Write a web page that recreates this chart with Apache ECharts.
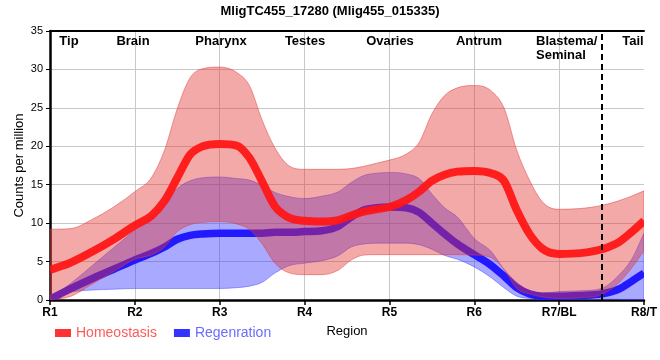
<!DOCTYPE html>
<html><head><meta charset="utf-8">
<script src="https://cdn.jsdelivr.net/npm/echarts@6/dist/echarts.min.js"></script>
<style>html,body{margin:0;padding:0;background:#fff}#c{width:660px;height:360px}</style>
</head><body><div id="c"></div>
<script>
// ---- data ----
var categories = ['R1','R2','R3','R4','R5','R6','R7/BL','R8/T'];
var regions = ['Tip','Brain','Pharynx','Testes','Ovaries','Antrum','Blastema/\nSeminal','Tail'];
var yTicks = [0,5,10,15,20,25,30,35];
var xs = [1,1.25,1.5,1.75,2,2.2,2.35,2.5,2.65,2.8,3,3.2,3.35,3.5,3.65,3.8,4,4.2,4.4,4.55,4.7,4.85,5,5.2,5.35,5.5,5.65,5.8,6,6.2,6.35,6.5,6.65,6.8,7,7.25,7.5,7.7,7.85,8];
var homMean  = [3.9,4.9,6.3,7.9,9.7,11.0,12.9,15.9,18.9,20.0,20.3,20.1,18.5,15.4,12.2,10.8,10.3,10.2,10.4,11.0,11.5,11.8,12.1,13.0,14.1,15.5,16.3,16.7,16.8,16.5,15.5,11.7,8.6,6.7,6.0,6.1,6.6,7.5,8.8,10.3];
var homUpper = [9.2,9.3,10.5,12.1,14.1,16.0,19.5,24.9,28.9,30.1,30.3,29.6,27.9,23.4,19.8,17.6,17.0,17.0,17.0,17.1,17.4,17.8,18.2,19.0,20.5,24.2,26.6,27.6,27.9,27.2,25.0,19.5,15.6,12.8,11.8,11.9,12.3,12.9,13.5,14.2];
var homLower = [0,0.5,2.1,3.7,5.3,5.9,6.9,8.9,9.8,10.1,10.2,9.9,9.2,7.3,4.8,3.6,3.3,3.3,3.9,5.2,5.85,5.9,5.9,5.9,5.9,5.9,5.9,5.9,5.85,5.5,4.0,1.5,0.8,0.4,0.2,0.3,0.7,2.2,4.1,6.4];
var regMean  = [0.1,1.5,2.8,4.0,5.2,6.1,6.9,7.9,8.4,8.6,8.7,8.7,8.7,8.7,8.8,8.8,8.9,9.0,9.6,10.8,11.7,12.0,12.1,12.0,11.4,10.0,8.6,7.3,5.9,4.5,3.1,1.6,0.8,0.5,0.5,0.6,0.8,1.4,2.4,3.5];
var regUpper = [0.1,2.2,4.5,6.8,9.1,11.0,12.6,14.5,15.5,15.9,16.0,15.8,15.6,14.9,14.0,13.5,13.2,13.5,14.1,15.3,16.2,16.5,16.6,16.4,15.8,13.8,12.0,10.8,8.0,6.3,4.0,2.3,1.2,0.9,1.1,1.2,1.5,3.2,5.2,8.7];
var regLower = [0,1.0,1.3,1.4,1.5,1.5,1.5,1.5,1.5,1.5,1.5,1.6,1.8,2.3,3.5,4.4,4.8,5.1,5.8,6.9,7.3,7.4,7.4,7.4,7.2,6.6,5.8,5.3,4.3,2.9,1.6,0.5,0.2,0.1,0.1,0.1,0.1,0.1,0,0];

var FONT = "'Liberation Sans', Arial, sans-serif";

// smooth (limited) cubic path through pixel points
function smoothPath(p){
  var n=p.length, dx=[], m=[], t=[], i, s='';
  for(i=0;i<n-1;i++){ dx[i]=p[i+1][0]-p[i][0]; m[i]=(p[i+1][1]-p[i][1])/dx[i]; }
  t[0]=m[0]; t[n-1]=m[n-2];
  for(i=1;i<n-1;i++){
    if(m[i-1]*m[i]<=0){ t[i]=0; }
    else {
      var v=(m[i-1]*dx[i]+m[i]*dx[i-1])/(dx[i-1]+dx[i]);
      var lim=3*Math.min(Math.abs(m[i-1]),Math.abs(m[i]));
      if(Math.abs(v)>lim) v=(v>0?1:-1)*lim;
      t[i]=v;
    }
  }
  for(i=0;i<n-1;i++){
    var h=dx[i]/3;
    s+=' C'+(p[i][0]+h)+','+(p[i][1]+t[i]*h)+' '+(p[i+1][0]-h)+','+(p[i+1][1]-t[i+1]*h)+' '+p[i+1][0]+','+p[i+1][1];
  }
  return s;
}

function band(name, upper, lower, fill, stroke, z){
  return {
    type:'custom', name:name, z:z, silent:true, clip:true,
    coordinateSystem:'cartesian2d',
    data:[[xs[0],0]], encode:{x:0,y:1},
    renderItem:function(params, api){
      var up = xs.map(function(x,i){ return api.coord([x, upper[i]]); });
      var lo = xs.map(function(x,i){ return api.coord([x, lower[i]]); }).reverse();
      var d = 'M'+up[0][0]+','+up[0][1]+smoothPath(up)+' L'+lo[0][0]+','+lo[0][1]+smoothPath(lo)+' Z';
      return {type:'path', shape:{pathData:d}, style:{fill:fill, stroke:stroke, lineWidth:1}};
    }
  };
}

function meanLine(name, vals, color, legendColor, width, z){
  return {
    type:'custom', name:name, z:z, silent:true, clip:true,
    coordinateSystem:'cartesian2d',
    itemStyle:{color:legendColor},
    data:[[xs[0],0]], encode:{x:0,y:1},
    renderItem:function(params, api){
      var p = xs.map(function(x,i){ return api.coord([x, vals[i]]); });
      var d = 'M'+p[0][0]+','+p[0][1]+smoothPath(p);
      return {type:'path', shape:{pathData:d}, style:{fill:null, stroke:color, lineWidth:width, lineJoin:'round', lineCap:'butt'}};
    }
  };
}

var chart = echarts.init(document.getElementById('c'), null, {renderer:'canvas'});

var regionPos = [[69,41,'center'],[133,41,'center'],[221,41,'center'],[305,41,'center'],[390,41,'center'],[479,41,'center'],[536,34,'left'],[633,41,'center']];
var graphics = regions.map(function(r,i){
  return {type:'text', x:regionPos[i][0], y:regionPos[i][1], z:100,
    style:{text:r, font:'bold 13px '+FONT, fill:'#000', textAlign:regionPos[i][2], textVerticalAlign:(i===6?'top':'middle'), lineHeight:14}};
});

chart.setOption({
  animation:false,
  backgroundColor:'#fff',
  title:{text:'MligTC455_17280 (Mlig455_015335)', left:'center', top:0,
    textStyle:{fontFamily:FONT, fontWeight:'bold', fontSize:13, color:'#000'}},
  grid:{left:50, right:10, top:31, bottom:60, containLabel:false},
  legend:{left:50, top:321, icon:'rect', itemWidth:16, itemHeight:8, itemGap:17,
    textStyle:{fontFamily:FONT, fontSize:14},
    data:[{name:'Homeostasis', itemStyle:{color:'#ff3333'}, textStyle:{color:'#ff5a5a'}},
          {name:'Regenration', itemStyle:{color:'#3333ff'}, textStyle:{color:'#6b6bff'}}]},
  xAxis:[{
    type:'value', min:1, max:8, interval:1,
    name:'Region', nameLocation:'middle', nameGap:25, nameMoveOverlap:false,
    nameTextStyle:{fontFamily:FONT, fontSize:13, color:'#000'},
    axisLine:{show:true, onZero:false, lineStyle:{color:'#000', width:2.5}},
    axisTick:{show:true, length:5, lineStyle:{color:'#000', width:1.5}},
    axisLabel:{margin:7, fontFamily:FONT, fontWeight:'bold', fontSize:12, color:'#000',
      formatter:function(v){ return categories[Math.round(v)-1]; }},
    splitLine:{show:true, showMinLine:false, showMaxLine:false, lineStyle:{color:'#c8c8c8', width:1}}
  },{
    type:'value', min:1, max:8, position:'top',
    axisLine:{show:true, onZero:false, lineStyle:{color:'#000', width:2}},
    axisTick:{show:false}, axisLabel:{show:false}, splitLine:{show:false}
  }],
  yAxis:{
    type:'value', min:yTicks[0], max:yTicks[yTicks.length-1], interval:5,
    name:'Counts per million', nameLocation:'middle', nameGap:24, nameMoveOverlap:false,
    nameTextStyle:{fontFamily:FONT, fontSize:13, color:'#000'},
    axisLine:{show:true, lineStyle:{color:'#000', width:2.5}},
    axisTick:{show:true, length:4, lineStyle:{color:'#000', width:1}},
    axisLabel:{margin:7, fontFamily:FONT, fontSize:11, color:'#000'},
    splitLine:{show:true, lineStyle:{color:'#c8c8c8', width:1}}
  },
  graphic:graphics,
  series:[
    band('regBand', regUpper, regLower, 'rgba(50,50,255,0.42)', 'rgba(60,60,255,0.45)', 1),
    meanLine('Regenration', regMean, 'rgb(35,25,255)', '#3333ff', 7.5, 2),
    band('homBand', homUpper, homLower, 'rgba(228,50,50,0.42)', 'rgba(225,60,60,0.5)', 3),
    meanLine('Homeostasis', homMean, 'rgba(255,22,22,0.95)', '#ff3333', 8, 4),
    {type:'line', name:'divider', z:6, silent:true, data:[], symbol:'none',
     markLine:{silent:true, symbol:'none', label:{show:false},
       lineStyle:{color:'#000', type:[6,4], width:2},
       data:[{xAxis:7.5}]}}
  ]
});
</script></body></html>
